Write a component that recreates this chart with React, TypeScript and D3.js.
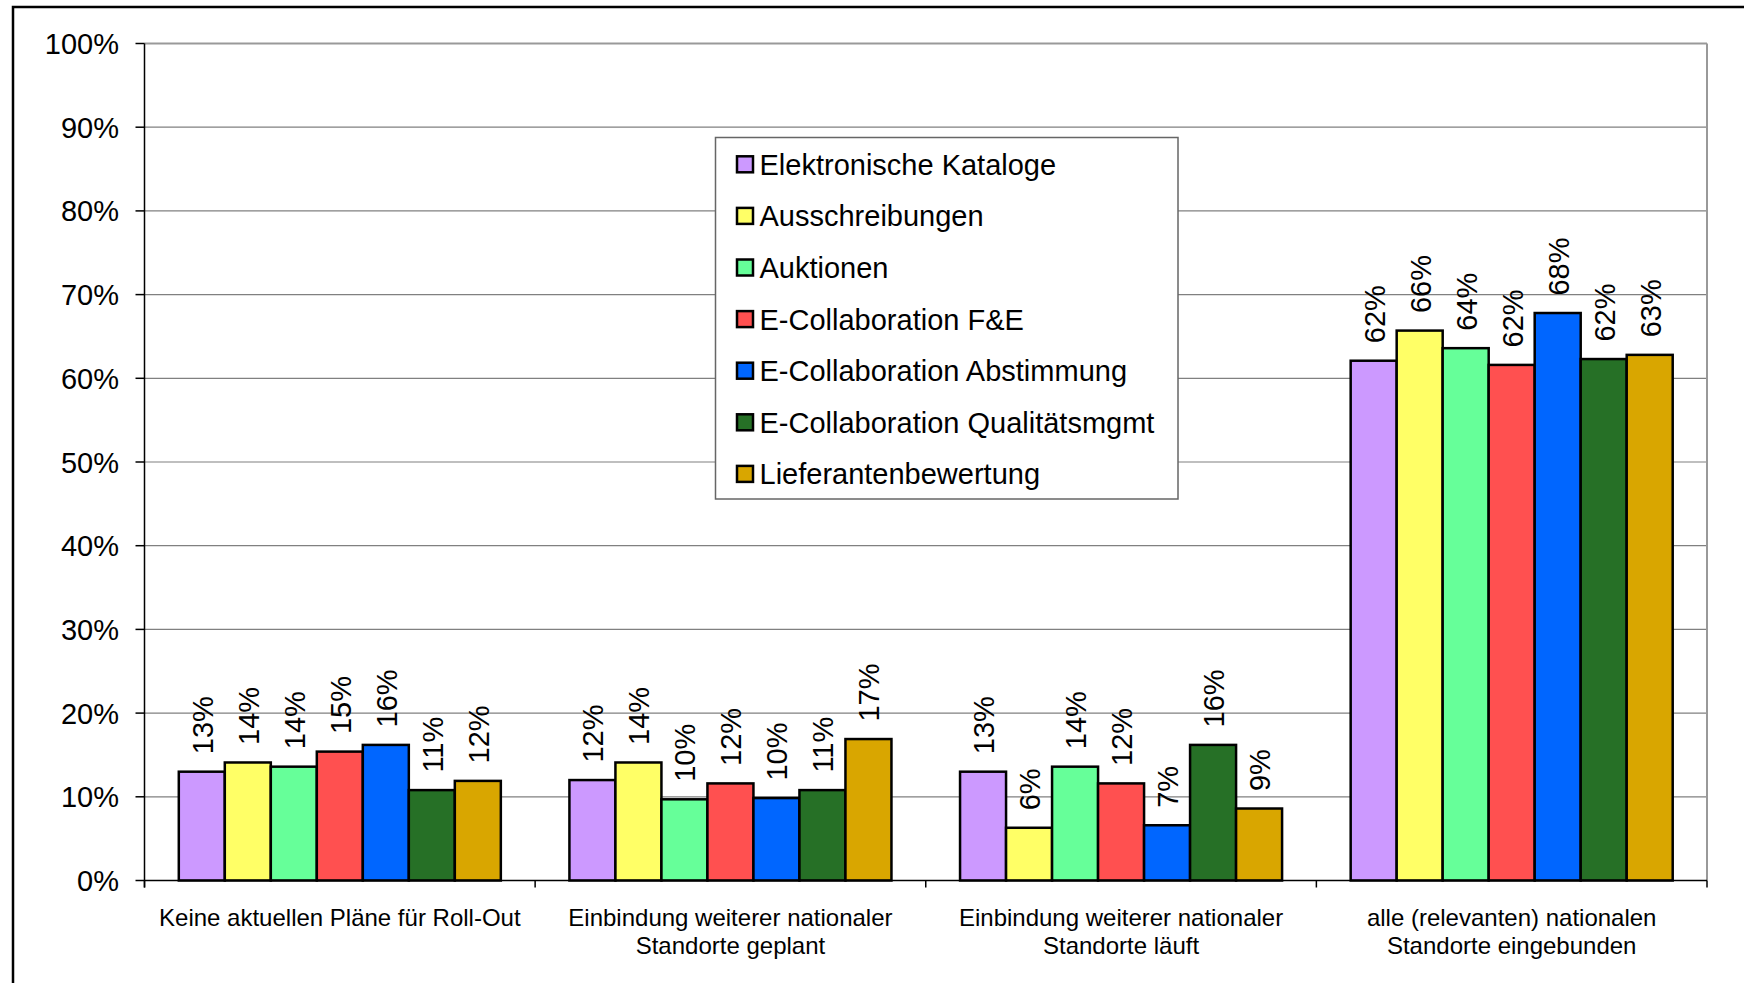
import React from "react";
import * as d3 from "d3";

const categories: string[][] = [
  ["Keine aktuellen Pläne für Roll-Out"],
  ["Einbindung weiterer nationaler", "Standorte geplant"],
  ["Einbindung weiterer nationaler", "Standorte läuft"],
  ["alle (relevanten) nationalen", "Standorte eingebunden"],
];

const seriesNames = [
  "Elektronische Kataloge",
  "Ausschreibungen",
  "Auktionen",
  "E-Collaboration F&E",
  "E-Collaboration Abstimmung",
  "E-Collaboration Qualitätsmgmt",
  "Lieferantenbewertung",
];

const seriesColors = ["#CC99FF", "#FFFF66", "#66FF99", "#FF5050", "#0066FF", "#267026", "#D9A600"];

// values per series, in order of categories (percent)
const elektronischeKataloge = [13.0, 12.0, 13.0, 62.1];
const ausschreibungen = [14.1, 14.1, 6.3, 65.7];
const auktionen = [13.6, 9.7, 13.6, 63.6];
const eCollabFE = [15.4, 11.6, 11.6, 61.6];
const eCollabAbstimmung = [16.2, 9.85, 6.6, 67.8];
const eCollabQualitaet = [10.8, 10.8, 16.2, 62.3];
const lieferantenbewertung = [11.9, 16.9, 8.6, 62.8];

const seriesValues = [
  elektronischeKataloge,
  ausschreibungen,
  auktionen,
  eCollabFE,
  eCollabAbstimmung,
  eCollabQualitaet,
  lieferantenbewertung,
];

const yTicks = [0, 10, 20, 30, 40, 50, 60, 70, 80, 90, 100];

const FONT = "'Liberation Sans', Arial, Helvetica, sans-serif";

export default function App() {
  const W = 1744;
  const H = 983;
  const left = 144.5;
  const right = 1707;
  const top = 43.5;
  const bottom = 880.5;

  const y = d3.scaleLinear().domain([0, 100]).range([bottom, top]);
  const catKeys = categories.map((_, i) => String(i));
  const x0 = d3.scaleBand<string>().domain(catKeys).range([left, right]).padding(0);
  const bw = x0.bandwidth();
  const outerPad = bw * 0.0878;
  const x1 = d3
    .scaleBand<string>()
    .domain(seriesNames)
    .range([outerPad, bw - outerPad])
    .padding(0);

  const fmt = (v: number) => `${Math.round(v)}%`;

  return (
    <svg
      width={W}
      height={H}
      style={{ position: "absolute", left: 0, top: 0, background: "#fff" }}
      fontFamily={FONT}
    >
      <rect x={0} y={0} width={W} height={H} fill="#fff" />
      {/* outer frame */}
      <rect x={13} y={7} width={W + 50} height={H + 50} fill="none" stroke="#000" strokeWidth={2.5} />

      {/* gridlines */}
      {yTicks.map((t) => (
        <line
          key={"g" + t}
          x1={left}
          x2={right}
          y1={y(t)}
          y2={y(t)}
          stroke={t === 100 ? "#999" : "#808080"}
          strokeWidth={t === 100 ? 2 : 1.2}
        />
      ))}
      {/* right border of plot */}
      <line x1={right} x2={right} y1={top} y2={bottom} stroke="#999" strokeWidth={2} />

      {/* bars */}
      {seriesNames.map((s, si) =>
        seriesValues[si].map((v, ci) => {
          const bx = (x0(String(ci)) as number) + (x1(s) as number);
          const w = x1.bandwidth();
          return (
            <rect
              key={s + ci}
              x={bx}
              y={y(v)}
              width={w}
              height={y(0) - y(v)}
              fill={seriesColors[si]}
              stroke="#000"
              strokeWidth={2.5}
            />
          );
        })
      )}

      {/* data labels */}
      {seriesNames.map((s, si) =>
        seriesValues[si].map((v, ci) => {
          const cx = (x0(String(ci)) as number) + (x1(s) as number) + x1.bandwidth() / 2;
          const ty = y(v) - 17.5;
          const tx = cx + 11;
          return (
            <text
              key={"l" + s + ci}
              transform={`translate(${tx},${ty}) rotate(-90)`}
              fontSize={29}
              fill="#000"
              textAnchor="start"
            >
              {fmt(v)}
            </text>
          );
        })
      )}

      {/* y axis */}
      <line x1={left} x2={left} y1={top} y2={bottom + 7} stroke="#000" strokeWidth={1.5} />
      {yTicks.map((t) => (
        <g key={"yt" + t}>
          <line x1={left - 9} x2={left} y1={y(t)} y2={y(t)} stroke="#000" strokeWidth={1.5} />
          <text x={119} y={y(t) + 10.5} fontSize={29} textAnchor="end" fill="#000">
            {t}%
          </text>
        </g>
      ))}

      {/* x axis */}
      <line x1={left} x2={right} y1={bottom} y2={bottom} stroke="#000" strokeWidth={1.5} />
      {catKeys.concat(["end"]).map((k, i) => {
        const xx = k === "end" ? right : (x0(k) as number);
        return <line key={"xt" + i} x1={xx} x2={xx} y1={bottom} y2={bottom + 7} stroke="#000" strokeWidth={1.5} />;
      })}
      {categories.map((lines, ci) => {
        const cx = (x0(String(ci)) as number) + bw / 2;
        return (
          <text key={"c" + ci} x={cx} textAnchor="middle" fontSize={24} fill="#000">
            {lines.map((ln, li) => (
              <tspan key={li} x={cx} y={926 + li * 27.5}>
                {ln}
              </tspan>
            ))}
          </text>
        );
      })}

      {/* legend */}
      <rect x={715.5} y={137.5} width={462.5} height={361.5} fill="#fff" stroke="#666" strokeWidth={1.5} />
      {seriesNames.map((s, si) => {
        const cy = 164.3 + si * 51.6;
        return (
          <g key={"lg" + si}>
            <rect x={737} y={cy - 8} width={16} height={16} fill={seriesColors[si]} stroke="#000" strokeWidth={2.5} />
            <text x={759.5} y={cy + 10.5} fontSize={29} fill="#000">
              {s}
            </text>
          </g>
        );
      })}
    </svg>
  );
}
